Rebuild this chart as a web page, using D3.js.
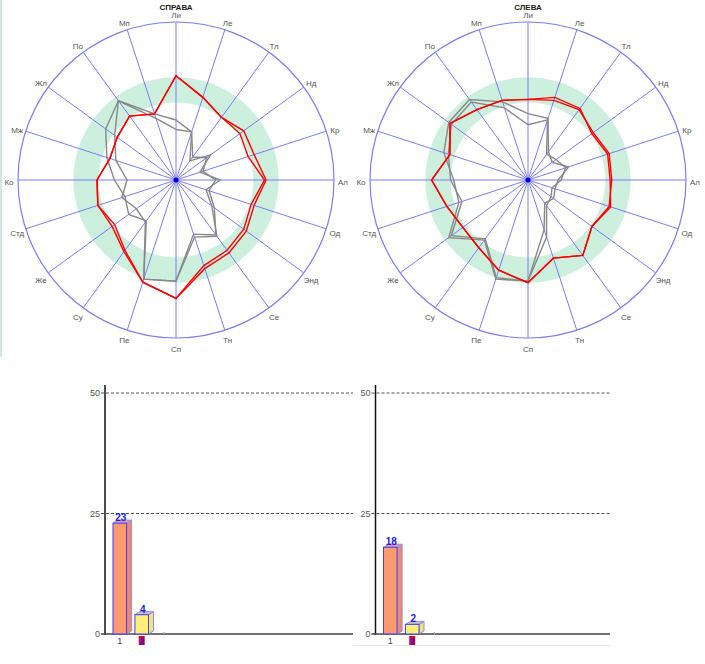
<!DOCTYPE html>
<html><head><meta charset="utf-8">
<script src="https://cdn.jsdelivr.net/npm/d3@7"></script>
<style>body{margin:0;background:#fff;}svg{display:block;font-family:"Liberation Sans",Arial,sans-serif;}</style>
</head><body>
<svg id="c" width="705" height="664"></svg>
<script>
const axesLabels = ["Ли","Ле","Тл","Нд","Кр","Ал","Од","Энд","Се","Тн","Сп","Пе","Су","Же","Стд","Ко","Мж","Жл","По","Мп"];
const radarTitles = ["СПРАВА","СЛЕВА"];
const normBand = [49, 65];
const radarMax = 100;

const rightRed1 = [66,55,49,50,48,56,50,53,55,57,75,68,55,48,52,50,44,46,50,44];
const rightRed2 = [66,55,49,53,52,57,52,55,57,59,75,68,56,50,52,50,44,46,50,44];
const rightGray1 = [38,32,15,27,16,28,20,28,44,38,64,66,32,37,34,39,46,55,62,44];
const rightGray2 = [32,32,18,24,18,25,22,30,43,36,64,66,33,31,36,31,40,48,62,41];

const leftRed1 = [51,55,56,50,53,52,55,50,59,52,65,60,53,51,54,61,52,61,55,53];
const leftRed2 = [51,53,55,51,54,53,54,50,59,52,65,60,53,51,54,61,52,61,55,53];
const leftGray1 = [42,41,22,19,27,19,18,20,18,33,64,66,47,62,46,47,56,62,63,52];
const leftGray2 = [35,40,20,22,25,21,16,18,20,38,64,65,46,60,44,49,53,60,61,48];

const barCategories = ["1","2"];
const barValuesRight = [23,4];
const barValuesLeft = [18,2];
const barTicks = [0,25,50];

const svg = d3.select("#c");

// left border line
svg.append("line").attr("x1",1).attr("x2",1).attr("y1",0).attr("y2",357)
  .attr("stroke","#cde6e6").attr("stroke-width",2);

function radar(cx, cy, title, gray, red) {
  const R = 158;
  const r = d3.scaleLinear().domain([0, radarMax]).range([0, R]);
  const n = axesLabels.length;
  const ang = i => i * 2 * Math.PI / n;
  const g = svg.append("g").attr("transform", `translate(${cx},${cy})`);
  g.append("path").attr("d", d3.arc()({innerRadius: r(normBand[0]), outerRadius: r(normBand[1]), startAngle: 0, endAngle: 2*Math.PI}))
    .attr("fill", "#cdefdd");
  axesLabels.forEach((lab, i) => {
    const a = ang(i);
    g.append("line").attr("x1",0).attr("y1",0)
      .attr("x2", R*Math.sin(a)).attr("y2", -R*Math.cos(a))
      .attr("stroke","#7b7bff").attr("stroke-width",1);
    g.append("text").attr("x", (R+9)*Math.sin(a)).attr("y", -(R+9)*Math.cos(a) + 2)
      .attr("text-anchor","middle").attr("dominant-baseline","central")
      .attr("font-size",8).attr("fill","#555").text(lab);
  });
  g.append("circle").attr("r", R).attr("fill","none").attr("stroke","#7b7bff").attr("stroke-width",1.2);
  const line = d3.lineRadial().angle((d,i)=>ang(i)).radius(d=>r(d)).curve(d3.curveLinearClosed);
  gray.forEach(s => g.append("path").attr("d", line(s)).attr("fill","none").attr("stroke","#888").attr("stroke-width",1.4));
  red.forEach(s => g.append("path").attr("d", line(s)).attr("fill","none").attr("stroke","#f00").attr("stroke-width",1.4));
  g.append("circle").attr("r",2.5).attr("fill","#0000dd");
  g.append("text").attr("x",0).attr("y",-R-15).attr("text-anchor","middle").attr("dominant-baseline","central")
    .attr("font-size",8).attr("font-weight","bold").attr("fill","#222").text(title);
}
radar(176, 180, radarTitles[0], [rightGray1, rightGray2], [rightRed1, rightRed2]);
radar(528, 180, radarTitles[1], [leftGray1, leftGray2], [leftRed1, leftRed2]);

function bars(axisX, rightEnd, values) {
  const y = d3.scaleLinear().domain([0,50]).range([634, 393]);
  const x = d3.scaleBand().domain(barCategories).range([axisX+8, axisX+43.5]).paddingInner(0.38).paddingOuter(0);
  const g = svg.append("g");
  barTicks.filter(t=>t>0).forEach(t => {
    g.append("line").attr("x1", axisX-4).attr("x2", rightEnd).attr("y1", y(t)).attr("y2", y(t))
      .attr("stroke","#555").attr("stroke-width",1).attr("stroke-dasharray","3,2");
  });
  barTicks.forEach(t => {
    g.append("text").attr("x", axisX-5).attr("y", y(t)).attr("text-anchor","end").attr("dominant-baseline","central")
      .attr("font-size",9).attr("fill","#555").text(t);
  });
  g.append("line").attr("x1", axisX).attr("x2", axisX).attr("y1", 385).attr("y2", y(0)+1).attr("stroke","#111").attr("stroke-width",1.5);
  g.append("line").attr("x1", axisX-4).attr("x2", rightEnd).attr("y1", y(0)).attr("y2", y(0)).attr("stroke","#444").attr("stroke-width",1.5);
  g.append("line").attr("x1", axisX+59).attr("x2", axisX+59).attr("y1", y(0)-2).attr("y2", y(0)).attr("stroke","#aaa");
  const dx = 5, dy = 3;
  const fills = [{front:"#fa9a6e", side:"#f08a60", top:"#f5a07a"},{front:"#fcee78", side:"#f5e46a", top:"#c9c2b0"}];
  values.forEach((v, i) => {
    const x0 = x(barCategories[i]), w = x.bandwidth(), yt = y(v), yb = y(0);
    const c = fills[i];
    g.append("path").attr("d", `M${x0+w},${yt}L${x0+w+dx},${yt-dy}L${x0+w+dx},${yb-dy}L${x0+w},${yb}Z`)
      .attr("fill", c.side).attr("stroke","#8a8aff").attr("stroke-width",1);
    g.append("path").attr("d", `M${x0},${yt}L${x0+dx},${yt-dy}L${x0+w+dx},${yt-dy}L${x0+w},${yt}Z`)
      .attr("fill", c.top).attr("stroke","#8a8aff").attr("stroke-width",1);
    g.append("rect").attr("x", x0).attr("y", yt).attr("width", w).attr("height", yb-yt)
      .attr("fill", c.front).attr("stroke","#3f3fff").attr("stroke-width",1);
    g.append("text").attr("x", x0+w/2+1).attr("y", yt-2).attr("text-anchor","middle").attr("font-size",10)
      .attr("font-weight","bold").attr("fill","#1a1aff").text(v);
  });
  const c1 = x(barCategories[0]) + x.bandwidth()/2;
  g.append("text").attr("x", c1).attr("y", 641).attr("text-anchor","middle").attr("dominant-baseline","central")
    .attr("font-size",9).attr("fill","#444").text(barCategories[0]);
  const c2 = x(barCategories[1]) + x.bandwidth()/2;
  g.append("rect").attr("x", c2-3).attr("y", 636).attr("width", 6).attr("height", 9).attr("fill","#e8001a");
  g.append("text").attr("x", c2).attr("y", 641).attr("text-anchor","middle").attr("dominant-baseline","central")
    .attr("font-size",9).attr("font-weight","bold").attr("fill","#1a1aff").text(barCategories[1]);
}
bars(105, 353, barValuesRight);
bars(375.5, 610, barValuesLeft);
svg.append("line").attr("x1",353).attr("x2",610).attr("y1",645.5).attr("y2",645.5).attr("stroke","#e3eef0").attr("stroke-width",1);
</script>
</body></html>
